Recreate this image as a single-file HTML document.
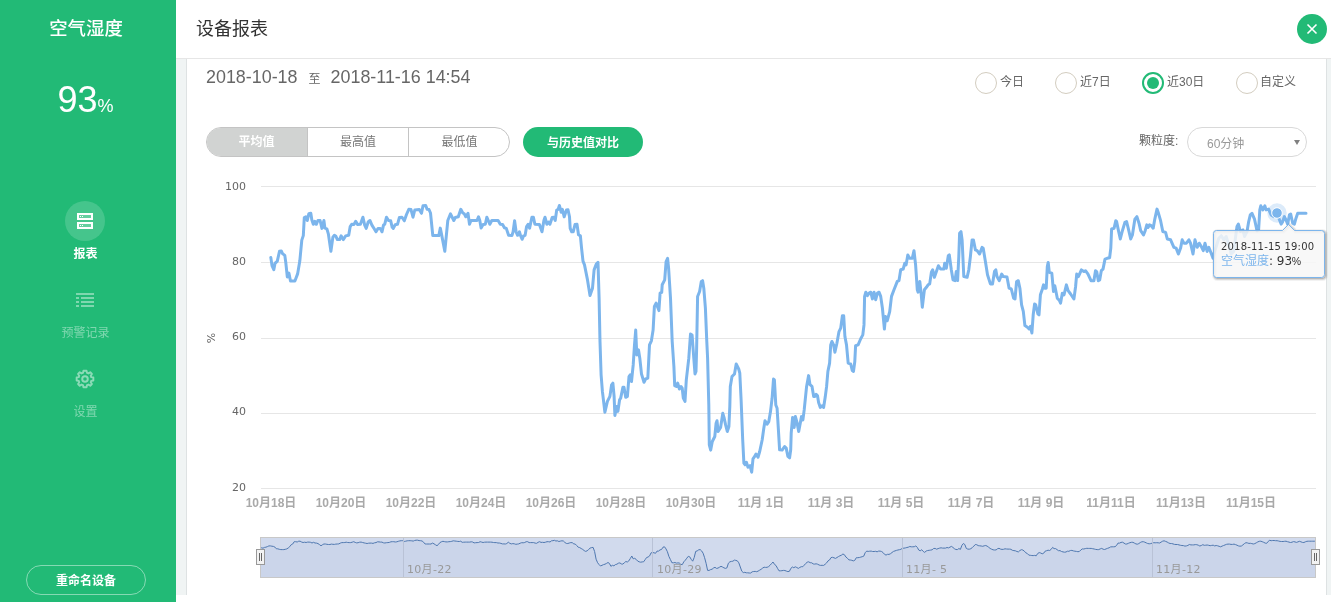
<!DOCTYPE html>
<html lang="zh-CN">
<head>
<meta charset="utf-8">
<title>设备报表</title>
<style>
*{box-sizing:border-box;margin:0;padding:0}
html,body{width:1331px;height:602px;overflow:hidden;background:#fff}
body{font-family:"Liberation Sans","Noto Sans CJK SC",sans-serif;color:#333;position:relative}
.abs{position:absolute;white-space:nowrap}
#side{position:absolute;left:0;top:0;width:176px;height:602px;background:#22ba76;color:#fff}
#side .name{left:0;width:176px;top:15.5px;text-align:center;font-size:18.4px;font-weight:500;line-height:26px;padding-right:4px}
#side .val{left:0;width:176px;top:78px;text-align:center;font-size:36px;line-height:44px;padding-right:5px}
#side .val small{font-size:18px}
#side .circle{left:65px;top:201px;width:40px;height:40px;border-radius:50%;background:rgba(255,255,255,.16)}
#side .lbl{left:0;width:176px;text-align:center;font-size:12px;line-height:16px;padding-right:5px}
#side .dim{opacity:.42}
#side .btn{left:26px;top:565px;width:120px;height:30px;border:1px solid rgba(255,255,255,.45);border-radius:15px;text-align:center;font-size:12px;font-weight:bold;line-height:30px}
#head{position:absolute;left:176px;top:0;width:1155px;height:59px;background:#fff;border-bottom:1px solid #e6e6e6}
#head .title{left:20px;top:15.5px;font-size:18px;line-height:26px;color:#333}
#head .close{left:1121px;top:14px;width:30px;height:30px;border-radius:50%;background:#22ba76}
#bg{position:absolute;left:176px;top:59px;width:1155px;height:536px;background:#f0f4f4}
#card{position:absolute;left:186px;top:59px;width:1141px;height:536px;background:#fff;border-left:1px solid #dee2e3;border-right:1px solid #dee2e3}
.date{left:206px;top:66px;font-size:17.9px;line-height:22px;color:#666}
.date i{font-style:normal;font-size:12px;margin:0 10px 0 11px;position:relative;top:0}
.radio{top:72px;width:22px;height:22px;border-radius:50%;border:1px solid #d3cdc0;background:#fff}
.radio.on{border:2px solid #22ba76}
.radio.on:after{content:"";position:absolute;left:3px;top:3px;width:12px;height:12px;border-radius:50%;background:#22ba76}
.rl{top:74px;font-size:12px;line-height:16px;color:#666}
.tabs{left:206px;top:127px;width:304px;height:30px;border:1px solid #c4c4c4;border-radius:15px;overflow:hidden;background:#fff}
.tabs div{position:absolute;top:-1px;height:30px;line-height:30px;text-align:center;font-size:12px;color:#777}
.cmp{left:523px;top:127px;width:120px;height:30px;border-radius:15px;background:#22ba76;color:#fff;font-size:12px;font-weight:bold;text-align:center;line-height:32px}
.gl{left:1139px;top:133px;font-size:12px;line-height:16px;color:#666}
.sel{left:1187px;top:127px;width:120px;height:30px;border:1px solid #d9d9d9;border-radius:15px;background:#fff}
.sel span{position:absolute;left:19px;top:8px;font-size:12px;line-height:16px;color:#999}
.sel b{position:absolute;left:106px;top:12px;width:0;height:0;border-left:3.5px solid transparent;border-right:3.5px solid transparent;border-top:5.5px solid #808080}
svg{position:absolute;left:0;top:0}
svg text{font-family:"Liberation Sans","Noto Sans CJK SC",sans-serif}
svg .hc,svg .hc text{font-family:"DejaVu Sans","Noto Sans CJK SC",sans-serif}
</style>
</head>
<body>
<div id="side">
  <div class="abs name">空气湿度</div>
  <div class="abs val">93<small>%</small></div>
  <div class="abs circle"></div>
  <svg width="176" height="602" viewBox="0 0 176 602">
    <!-- report icon -->
    <g fill="none" stroke="#fff" stroke-width="2">
      <rect x="78" y="214" width="14" height="5"/>
      <rect x="78" y="223" width="14" height="5"/>
    </g>
    <g fill="#fff">
      <rect x="79" y="215" width="12" height="3" opacity=".18"/>
      <rect x="79" y="224" width="12" height="3" opacity=".18"/>
      <rect x="80" y="216" width="1" height="1"/><rect x="82" y="216" width="1" height="1"/>
      <rect x="80" y="225" width="1" height="1"/><rect x="82" y="225" width="1" height="1"/>
    </g>
    <!-- list icon -->
    <g fill="#fff" opacity=".42">
      <rect x="76" y="293" width="18" height="2"/>
      <rect x="76" y="297" width="3" height="2"/><rect x="81" y="297" width="13" height="2"/>
      <rect x="76" y="301" width="3" height="2"/><rect x="81" y="301" width="13" height="2"/>
      <rect x="76" y="305" width="3" height="2"/><rect x="81" y="305" width="13" height="2"/>
    </g>
    <!-- gear icon -->
    <g fill="none" stroke="#fff" stroke-width="2" opacity=".48" transform="translate(85 379) scale(.96)">
      <circle r="2.9"/>
      <path d="M-1.6 -8.6 L1.6 -8.6 L2.1 -6.4 L3.6 -5.8 L5.5 -7 L7.2 -5.3 L6 -3.4 L6.5 -2 L8.7 -1.5 L8.7 1.5 L6.5 2 L6 3.4 L7.2 5.3 L5.5 7 L3.6 5.8 L2.1 6.4 L1.6 8.6 L-1.6 8.6 L-2.1 6.4 L-3.6 5.8 L-5.5 7 L-7.2 5.3 L-6 3.4 L-6.5 2 L-8.7 1.5 L-8.7 -1.5 L-6.5 -2 L-6 -3.4 L-7.2 -5.3 L-5.5 -7 L-3.6 -5.8 L-2.1 -6.4 Z" stroke-linejoin="round"/>
    </g>
  </svg>
  <div class="abs lbl" style="top:245.5px;font-weight:bold">报表</div>
  <div class="abs lbl dim" style="top:324.5px">预警记录</div>
  <div class="abs lbl dim" style="top:403.5px">设置</div>
  <div class="abs btn">重命名设备</div>
</div>

<div id="head">
  <div class="abs title">设备报表</div>
  <div class="abs close">
    <svg width="30" height="30" viewBox="0 0 30 30"><path d="M10.5 10.5 L19.5 19.5 M19.5 10.5 L10.5 19.5" stroke="#fff" stroke-width="1.6" fill="none"/></svg>
  </div>
</div>
<div id="bg"></div>
<div id="card"></div>

<div class="abs date">2018-10-18<i>至</i>2018-11-16 14:54</div>

<div class="abs radio" style="left:975px"></div><div class="abs rl" style="left:1000px">今日</div>
<div class="abs radio" style="left:1055px"></div><div class="abs rl" style="left:1080px">近7日</div>
<div class="abs radio on" style="left:1142px"></div><div class="abs rl" style="left:1167px">近30日</div>
<div class="abs radio" style="left:1236px"></div><div class="abs rl" style="left:1260px">自定义</div>

<div class="abs tabs">
  <div style="left:-1px;width:101px;background:#d1d3d2;color:#fff;font-weight:bold">平均值</div>
  <div style="left:100px;width:102px;border-left:1px solid #c4c4c4;border-right:1px solid #c4c4c4">最高值</div>
  <div style="left:202px;width:101px">最低值</div>
</div>
<div class="abs cmp">与历史值对比</div>
<div class="abs gl">颗粒度:</div>
<div class="abs sel"><span>60分钟</span><b></b></div>

<svg width="1331" height="602" viewBox="0 0 1331 602">
  <!-- grid -->
  <g stroke="#e6e6e6" stroke-width="1" shape-rendering="crispEdges">
    <path d="M261 186.5H1316 M261 262.5H1316 M261 338.5H1316 M261 413.5H1316 M261 488.5H1316"/>
  </g>
  <!-- y labels -->
  <g font-size="11" fill="#666" text-anchor="end" class="hc">
    <text x="246" y="190">100</text>
    <text x="246" y="265">80</text>
    <text x="246" y="340">60</text>
    <text x="246" y="415">40</text>
    <text x="246" y="491">20</text>
  </g>
  <text x="215" y="338" font-size="11" fill="#666" text-anchor="middle" class="hc" transform="rotate(-90 215 338)">%</text>
  <!-- x labels -->
  <g font-size="12" font-weight="bold" fill="#a9a9a9" text-anchor="middle">
    <text x="271" y="507">10月18日</text>
    <text x="341" y="507">10月20日</text>
    <text x="411" y="507">10月22日</text>
    <text x="481" y="507">10月24日</text>
    <text x="551" y="507">10月26日</text>
    <text x="621" y="507">10月28日</text>
    <text x="691" y="507">10月30日</text>
    <text x="761" y="507">11月 1日</text>
    <text x="831" y="507">11月 3日</text>
    <text x="901" y="507">11月 5日</text>
    <text x="971" y="507">11月 7日</text>
    <text x="1041" y="507">11月 9日</text>
    <text x="1111" y="507">11月11日</text>
    <text x="1181" y="507">11月13日</text>
    <text x="1251" y="507">11月15日</text>
  </g>
  <!-- main series -->
  <path d="M270.8 257.4 L272.0 265.6 L273.8 269.7 L275.0 263.4 L277.3 261.1 L279.5 251.3 L281.3 251.0 L282.5 253.6 L284.8 255.4 L285.8 262.6 L287.3 276.9 L288.9 273.1 L290.5 281.0 L294.9 281.0 L297.6 273.9 L299.8 261.1 L301.8 240.1 L303.3 235.6 L304.3 217.5 L305.8 216.8 L307.3 220.5 L308.8 213.8 L310.8 213.3 L311.8 219.8 L313.3 224.3 L314.8 221.3 L316.3 224.3 L317.9 220.5 L320.1 220.5 L321.9 228.4 L323.9 220.5 L324.9 228.1 L326.9 228.8 L328.4 234.1 L330.9 251.3 L332.9 237.1 L334.4 235.3 L335.9 236.3 L337.4 239.6 L339.6 239.6 L341.1 235.9 L343.4 239.6 L345.6 235.9 L348.7 235.3 L350.2 226.6 L351.7 224.3 L353.9 224.6 L355.7 221.3 L357.7 224.6 L360.4 224.3 L362.9 217.2 L364.7 225.1 L366.2 228.4 L368.2 222.0 L370.0 220.5 L371.9 225.1 L374.2 228.8 L376.0 231.8 L378.0 228.4 L380.2 228.4 L382.0 231.8 L383.5 225.1 L384.7 224.3 L386.5 217.2 L388.5 220.5 L390.7 220.8 L392.2 227.3 L393.3 228.4 L395.2 224.8 L397.5 224.3 L399.4 217.5 L402.0 217.2 L404.3 220.8 L406.5 214.5 L408.8 209.3 L411.0 209.6 L413.0 217.2 L414.8 210.0 L419.3 209.6 L421.5 213.3 L423.0 205.8 L425.7 205.5 L427.1 209.3 L429.0 209.6 L430.5 213.0 L432.8 235.6 L438.8 235.6 L440.3 228.1 L441.8 235.6 L444.8 251.3 L447.8 220.5 L450.5 213.8 L453.8 220.5 L455.3 217.5 L458.3 216.8 L460.8 209.3 L462.8 213.0 L464.3 213.8 L465.8 216.8 L468.0 213.3 L469.5 224.3 L471.0 220.5 L477.0 220.5 L478.5 216.8 L479.8 220.5 L481.1 228.1 L483.1 224.6 L485.3 224.3 L486.8 217.2 L488.3 220.5 L489.8 224.3 L491.8 220.5 L498.1 220.5 L500.3 224.3 L502.6 224.6 L504.4 227.8 L506.3 228.4 L508.6 235.3 L511.9 235.6 L513.1 231.8 L514.6 220.8 L516.1 231.8 L517.6 235.3 L519.4 231.8 L520.6 235.6 L522.1 239.3 L523.6 235.9 L525.1 235.3 L526.6 226.6 L528.1 224.3 L529.6 228.1 L531.9 217.2 L533.4 217.2 L534.9 224.3 L539.4 224.6 L542.0 231.8 L543.9 220.5 L545.0 217.2 L546.9 224.3 L548.4 222.0 L549.9 224.3 L552.2 217.5 L553.7 217.2 L555.2 220.5 L556.7 210.0 L558.2 209.3 L559.4 205.5 L561.2 212.3 L562.4 209.3 L564.2 216.8 L566.5 210.0 L568.0 209.7 L569.5 216.8 L570.2 228.4 L571.7 231.8 L573.2 231.8 L575.0 224.6 L577.0 224.3 L578.5 234.8 L580.4 235.9 L581.5 247.6 L583.0 261.1 L584.5 264.9 L587.5 279.9 L590.0 295.6 L592.5 288.2 L594.1 269.9 L596.3 264.1 L598.0 262.4 L599.1 298.1 L600.0 341.6 L601.1 374.8 L602.4 391.4 L604.9 412.2 L607.4 401.4 L609.9 396.4 L611.6 384.8 L612.9 383.1 L614.1 396.4 L614.9 415.5 L616.6 406.4 L617.9 411.4 L619.6 399.8 L620.7 398.1 L622.9 387.3 L624.0 387.3 L625.7 397.3 L627.4 396.4 L629.0 376.5 L630.2 374.8 L631.5 381.5 L633.2 364.9 L634.5 344.9 L635.7 330.0 L636.8 354.9 L638.5 349.9 L639.8 358.2 L641.5 374.0 L644.0 382.3 L645.6 379.0 L647.8 378.2 L649.5 344.9 L651.4 340.8 L653.1 330.0 L654.4 306.4 L656.1 303.1 L658.9 310.6 L660.1 293.1 L661.7 292.3 L662.2 284.8 L664.7 279.9 L666.1 261.6 L667.6 258.3 L668.6 268.2 L670.5 298.1 L672.2 341.6 L673.9 366.5 L674.7 385.6 L676.4 386.5 L677.7 383.1 L679.4 389.0 L681.0 386.5 L682.2 388.1 L683.3 398.1 L685.0 401.4 L686.3 379.8 L688.8 358.2 L690.5 334.1 L692.1 335.0 L693.8 358.2 L695.0 374.0 L696.0 371.5 L696.6 349.9 L697.6 296.5 L699.6 291.5 L701.3 281.5 L702.6 280.7 L703.8 288.2 L705.4 308.1 L706.8 341.6 L707.6 358.2 L708.8 404.7 L709.3 444.8 L710.7 450.1 L712.3 441.5 L714.8 436.5 L716.1 423.2 L717.0 420.7 L718.1 431.5 L720.6 427.4 L722.8 413.3 L724.0 417.4 L725.6 424.9 L727.3 431.5 L728.9 426.5 L729.8 406.6 L730.3 386.5 L732.0 376.5 L734.5 374.0 L736.2 364.0 L738.7 369.0 L739.8 373.2 L741.1 399.8 L742.7 439.8 L743.9 463.1 L745.0 464.8 L746.4 462.3 L748.0 467.2 L750.0 465.6 L751.7 472.2 L753.0 458.9 L754.7 456.4 L756.0 454.0 L758.0 457.3 L759.7 451.5 L762.2 439.8 L763.8 428.2 L765.0 420.7 L767.1 424.1 L768.8 421.6 L770.5 411.6 L772.1 398.3 L773.5 379.0 L774.4 379.8 L775.8 405.0 L777.1 408.3 L778.3 428.2 L779.6 449.8 L782.1 450.1 L784.6 446.5 L786.2 448.1 L787.9 456.4 L789.6 457.8 L790.7 449.8 L791.2 433.2 L792.6 417.4 L794.2 427.4 L795.4 416.6 L797.0 422.4 L798.7 431.5 L800.4 422.4 L801.5 416.6 L802.9 419.9 L804.2 409.9 L806.6 386.4 L808.6 375.6 L810.0 384.7 L812.0 386.4 L813.7 396.6 L814.8 396.6 L816.1 394.2 L817.5 395.8 L818.6 402.5 L820.3 407.4 L822.0 405.8 L823.6 407.4 L825.3 396.6 L826.6 386.4 L827.9 371.4 L829.6 363.1 L830.7 344.9 L831.9 341.5 L833.6 344.9 L834.9 352.3 L836.9 343.2 L839.0 331.6 L840.7 328.2 L842.4 315.8 L843.7 315.8 L844.9 336.5 L846.5 344.9 L848.2 363.1 L850.7 364.0 L852.3 370.6 L853.5 371.4 L854.8 361.5 L855.6 345.7 L858.1 344.9 L860.6 339.0 L862.8 334.9 L864.0 324.9 L864.6 296.4 L865.8 292.2 L867.4 295.6 L869.1 293.1 L870.8 292.2 L872.4 298.9 L874.1 292.2 L875.7 299.7 L877.4 293.1 L879.1 292.2 L880.7 296.4 L882.4 308.0 L884.4 329.1 L885.5 316.6 L887.2 320.8 L889.7 311.6 L891.5 296.4 L894.0 289.8 L897.3 281.4 L899.0 280.6 L900.7 269.8 L903.2 269.0 L904.8 263.2 L906.1 264.8 L907.8 254.9 L909.5 258.2 L912.3 258.2 L914.0 250.7 L915.6 264.8 L917.3 289.8 L918.1 292.2 L919.8 281.4 L921.1 293.1 L922.3 307.2 L924.4 289.8 L926.4 287.3 L928.1 284.8 L929.7 283.9 L931.4 272.3 L932.7 269.8 L934.4 277.3 L936.4 271.5 L938.4 265.7 L940.5 269.0 L943.9 269.0 L944.7 263.2 L946.3 268.2 L948.3 255.7 L949.3 254.9 L951.3 269.8 L953.0 279.8 L955.0 280.6 L956.3 271.5 L957.6 280.6 L958.8 256.5 L959.6 233.3 L961.0 231.6 L962.1 239.9 L963.8 276.5 L967.1 277.3 L968.8 269.8 L970.4 256.5 L972.1 239.9 L973.4 239.9 L975.4 249.9 L977.1 250.7 L979.6 254.0 L982.1 247.4 L983.2 248.2 L985.4 261.5 L987.5 274.8 L990.4 283.9 L992.5 283.9 L994.5 271.5 L995.8 269.8 L997.0 276.5 L999.2 280.6 L1001.7 274.1 L1003.3 276.6 L1007.0 276.9 L1009.1 288.2 L1011.3 289.0 L1013.6 298.2 L1015.0 299.0 L1016.6 281.5 L1018.3 280.7 L1019.9 288.2 L1021.6 304.8 L1023.3 311.4 L1024.9 325.6 L1027.4 327.2 L1029.1 328.9 L1030.4 326.4 L1031.9 333.0 L1033.2 314.8 L1034.6 304.0 L1035.7 304.8 L1037.9 313.9 L1039.0 314.8 L1040.4 294.8 L1042.4 289.0 L1043.5 284.9 L1044.9 288.2 L1046.2 288.2 L1047.3 266.6 L1048.2 262.4 L1049.3 272.4 L1051.8 273.2 L1053.5 291.5 L1054.8 285.7 L1057.3 298.2 L1059.5 300.6 L1060.6 303.1 L1062.3 293.2 L1064.0 294.8 L1066.4 284.9 L1068.1 290.7 L1070.6 294.0 L1073.9 299.0 L1075.6 286.5 L1076.7 274.1 L1078.4 276.6 L1081.4 269.9 L1083.9 271.6 L1085.5 270.7 L1088.0 274.1 L1091.0 280.7 L1093.9 280.7 L1095.5 270.7 L1096.7 271.6 L1098.3 280.7 L1099.7 279.9 L1101.3 270.7 L1103.0 269.1 L1105.0 259.1 L1107.1 258.3 L1109.6 257.8 L1110.8 248.1 L1111.6 229.0 L1114.1 228.2 L1115.8 220.7 L1116.6 221.6 L1118.3 229.9 L1120.3 239.0 L1122.4 230.7 L1124.9 222.4 L1126.6 221.6 L1128.2 228.2 L1130.7 239.0 L1132.4 234.9 L1134.9 219.1 L1136.9 216.6 L1139.0 223.2 L1140.7 230.7 L1143.5 234.9 L1145.2 230.7 L1146.8 224.9 L1148.2 227.4 L1149.5 224.9 L1151.2 225.7 L1153.2 228.2 L1154.8 219.1 L1157.0 209.1 L1158.5 213.3 L1160.6 220.7 L1162.8 231.5 L1165.6 232.4 L1167.3 239.0 L1170.6 239.8 L1173.9 247.3 L1176.1 248.1 L1178.4 254.0 L1180.6 248.1 L1182.2 239.8 L1183.9 243.2 L1186.4 243.2 L1188.9 239.8 L1190.5 243.2 L1193.0 254.0 L1195.0 239.8 L1197.2 247.3 L1199.3 243.2 L1201.7 247.3 L1203.3 250.6 L1205.0 243.2 L1207.1 251.5 L1208.8 247.3 L1210.5 251.5 L1213.0 258.1 L1214.6 251.5 L1216.3 246.5 L1218.8 238.2 L1221.3 235.7 L1223.8 239.8 L1226.2 236.5 L1228.7 244.8 L1231.2 254.0 L1233.7 251.5 L1235.4 238.2 L1237.0 226.5 L1238.4 224.1 L1240.4 231.5 L1242.9 229.9 L1244.5 236.5 L1247.0 231.5 L1248.7 221.6 L1250.3 214.9 L1252.0 213.3 L1254.5 219.1 L1257.0 230.7 L1258.6 229.9 L1259.8 209.9 L1260.8 205.8 L1262.8 209.9 L1264.8 205.8 L1266.1 209.9 L1268.6 209.1 L1271.1 214.9 L1273.6 216.6 L1276.9 213.3 L1278.6 217.4 L1281.1 224.1 L1282.7 221.6 L1284.4 216.6 L1286.0 219.9 L1287.7 224.1 L1289.4 214.9 L1290.7 214.1 L1292.7 223.2 L1294.4 224.1 L1296.0 218.2 L1297.7 213.3 L1306.0 213.3" fill="none" stroke="#7cb5ec" stroke-width="3" stroke-linejoin="round" stroke-linecap="round"/>
  <circle cx="1277" cy="213" r="9.7" fill="#7cb5ec" fill-opacity=".27"/>
  <circle cx="1277" cy="213" r="5.3" fill="#7cb5ec" stroke="#fff" stroke-width="1"/>
  <!-- tooltip -->
  <g>
    <path d="M1216.5 230.500 H1282.5 L1288.5 224.5 L1294.500 230.500 H1321.500 a3 3 0 0 1 3 3 V274.500 a3 3 0 0 1 -3 3 H1216.500 a3 3 0 0 1 -3 -3 V233.500 a3 3 0 0 1 3 -3 Z" fill="none" stroke="#000" stroke-opacity="0.05" stroke-width="5" transform="translate(1 1)"/>
    <path d="M1216.5 230.500 H1282.5 L1288.5 224.5 L1294.500 230.500 H1321.500 a3 3 0 0 1 3 3 V274.500 a3 3 0 0 1 -3 3 H1216.500 a3 3 0 0 1 -3 -3 V233.500 a3 3 0 0 1 3 -3 Z" fill="none" stroke="#000" stroke-opacity="0.1" stroke-width="3" transform="translate(1 1)"/>
    <path d="M1216.5 230.500 H1282.5 L1288.5 224.5 L1294.500 230.500 H1321.500 a3 3 0 0 1 3 3 V274.500 a3 3 0 0 1 -3 3 H1216.500 a3 3 0 0 1 -3 -3 V233.500 a3 3 0 0 1 3 -3 Z" fill="none" stroke="#000" stroke-opacity="0.15" stroke-width="1" transform="translate(1 1)"/>
    <path d="M1216.5 230.500 H1282.5 L1288.5 224.5 L1294.500 230.500 H1321.500 a3 3 0 0 1 3 3 V274.500 a3 3 0 0 1 -3 3 H1216.500 a3 3 0 0 1 -3 -3 V233.500 a3 3 0 0 1 3 -3 Z" fill="#f7f7f7" fill-opacity=".85" stroke="#7cb5ec" stroke-width="1"/>
    <text x="1221" y="250" font-size="10" fill="#333" letter-spacing="0.2" class="hc">2018-11-15 19:00</text>
    <text x="1221" y="265" font-size="12" fill="#333" class="hc"><tspan fill="#7cb5ec">空气湿度</tspan>: 93<tspan font-family="Liberation Sans, sans-serif" font-size="10.5" dx="-0.3">%</tspan></text>
  </g>
  <!-- navigator -->
  <g>
    <path d="M260.0 546.8 L261.5 547.8 L263.0 548.2 L264.5 547.4 L265.9 547.2 L267.4 546.6 L268.9 545.9 L270.4 545.9 L271.9 546.2 L273.4 546.4 L274.9 547.1 L276.4 548.8 L277.8 548.8 L279.3 549.3 L280.8 549.6 L282.3 549.6 L283.8 549.6 L285.3 549.3 L286.8 548.9 L288.3 547.9 L289.7 546.7 L291.2 544.7 L292.7 544.0 L294.2 541.7 L295.7 541.7 L297.2 542.0 L298.7 541.2 L300.1 541.2 L301.6 542.0 L303.1 542.5 L304.6 542.2 L306.1 542.5 L307.6 542.1 L309.1 542.1 L310.6 542.3 L312.0 543.0 L313.5 542.3 L315.0 543.0 L316.5 543.1 L318.0 543.6 L319.5 544.6 L321.0 545.8 L322.5 544.7 L323.9 544.0 L325.4 544.0 L326.9 544.3 L328.4 544.5 L329.9 544.5 L331.4 544.1 L332.9 544.3 L334.4 544.4 L335.8 544.1 L337.3 544.0 L338.8 543.9 L340.3 543.1 L341.8 542.6 L343.3 542.6 L344.8 542.5 L346.2 542.2 L347.7 542.5 L349.2 542.6 L350.7 542.6 L352.2 542.2 L353.7 541.7 L355.2 542.4 L356.7 542.9 L358.1 542.7 L359.6 542.2 L361.1 542.1 L362.6 542.5 L364.1 542.9 L365.6 543.2 L367.1 543.5 L368.6 543.2 L370.0 543.1 L371.5 543.1 L373.0 543.4 L374.5 542.8 L376.0 542.6 L377.5 541.8 L379.0 541.9 L380.4 542.1 L381.9 542.1 L383.4 542.8 L384.9 543.0 L386.4 542.7 L387.9 542.6 L389.4 542.4 L390.9 541.8 L392.3 541.7 L393.8 541.7 L395.3 542.0 L396.8 541.8 L398.3 541.3 L399.8 540.9 L401.3 540.7 L402.8 540.7 L404.2 541.4 L405.7 541.2 L407.2 540.8 L408.7 540.7 L410.2 540.7 L411.7 540.8 L413.2 541.1 L414.6 540.5 L416.1 540.2 L417.6 540.2 L419.1 540.6 L420.6 540.7 L422.1 541.0 L423.6 542.2 L425.1 544.0 L426.5 544.0 L428.0 544.0 L429.5 544.0 L431.0 544.0 L432.5 543.1 L434.0 543.8 L435.5 544.8 L437.0 545.7 L438.4 544.5 L439.9 542.6 L441.4 541.8 L442.9 541.3 L444.4 541.6 L445.9 541.9 L447.4 541.9 L448.9 541.7 L450.3 541.6 L451.8 541.3 L453.3 540.8 L454.8 541.0 L456.3 541.2 L457.8 541.4 L459.3 541.5 L460.7 541.2 L462.2 542.3 L463.7 542.2 L465.2 542.1 L466.7 542.1 L468.2 542.1 L469.7 542.1 L471.2 541.8 L472.6 542.0 L474.1 542.9 L475.6 542.7 L477.1 542.6 L478.6 542.5 L480.1 541.7 L481.6 542.1 L483.1 542.5 L484.5 542.2 L486.0 542.1 L487.5 542.1 L489.0 542.1 L490.5 542.1 L492.0 542.2 L493.5 542.5 L494.9 542.6 L496.4 542.6 L497.9 543.0 L499.4 543.0 L500.9 543.4 L502.4 543.9 L503.9 543.9 L505.4 544.0 L506.8 543.5 L508.3 542.2 L509.8 543.3 L511.3 543.9 L512.8 543.6 L514.3 543.8 L515.8 544.3 L517.3 544.1 L518.7 543.9 L520.2 543.2 L521.7 542.7 L523.2 542.8 L524.7 542.5 L526.2 541.7 L527.7 541.7 L529.1 542.6 L530.6 542.6 L532.1 542.6 L533.6 542.6 L535.1 543.1 L536.6 543.3 L538.1 542.3 L539.6 541.7 L541.0 542.4 L542.5 542.3 L544.0 542.5 L545.5 542.2 L547.0 541.7 L548.5 541.7 L550.0 542.0 L551.5 540.8 L552.9 540.7 L554.4 540.3 L555.9 541.0 L557.4 540.8 L558.9 541.5 L560.4 541.1 L561.9 540.8 L563.4 541.0 L564.8 542.4 L566.3 543.4 L567.8 543.5 L569.3 543.0 L570.8 542.6 L572.3 542.7 L573.8 543.9 L575.2 544.0 L576.7 545.5 L578.2 547.2 L579.7 547.6 L581.2 548.5 L582.7 549.4 L584.2 550.6 L585.7 551.4 L587.1 550.8 L588.6 549.5 L590.1 548.1 L591.6 547.6 L593.1 547.4 L594.6 551.5 L596.1 559.2 L597.6 562.7 L599.0 564.5 L600.5 566.0 L602.0 565.3 L603.5 564.6 L605.0 564.2 L606.5 563.4 L608.0 562.5 L609.4 563.4 L610.9 566.3 L612.4 565.3 L613.9 565.8 L615.4 564.6 L616.9 564.2 L618.4 563.2 L619.9 562.9 L621.3 563.9 L622.8 564.1 L624.3 562.8 L625.8 561.5 L627.3 562.0 L628.8 560.9 L630.3 558.5 L631.8 556.0 L633.2 558.8 L634.7 558.3 L636.2 559.4 L637.7 561.1 L639.2 561.8 L640.7 562.2 L642.2 561.9 L643.6 561.8 L645.1 559.7 L646.6 557.5 L648.1 557.0 L649.6 555.9 L651.1 552.8 L652.6 552.5 L654.1 552.8 L655.5 553.3 L657.0 551.1 L658.5 551.1 L660.0 549.9 L661.5 549.5 L663.0 547.2 L664.5 546.8 L666.0 548.9 L667.4 551.7 L668.9 556.4 L670.4 559.5 L671.9 562.7 L673.4 562.8 L674.9 562.5 L676.4 563.1 L677.9 562.9 L679.3 563.0 L680.8 564.4 L682.3 564.6 L683.8 561.8 L685.3 560.2 L686.8 558.2 L688.3 556.3 L689.7 556.8 L691.2 559.3 L692.7 561.2 L694.2 557.5 L695.7 551.4 L697.2 550.9 L698.7 549.8 L700.2 549.6 L701.6 550.9 L703.1 553.2 L704.6 557.7 L706.1 563.3 L707.6 570.4 L709.1 570.4 L710.6 569.6 L712.1 569.2 L713.5 568.0 L715.0 567.3 L716.5 568.4 L718.0 568.1 L719.5 567.2 L721.0 566.3 L722.5 567.0 L723.9 567.8 L725.4 568.4 L726.9 567.9 L728.4 563.2 L729.9 561.8 L731.4 561.4 L732.9 561.2 L734.4 560.1 L735.8 560.4 L737.3 560.8 L738.8 562.8 L740.3 567.0 L741.8 571.2 L743.3 572.6 L744.8 572.3 L746.3 572.8 L747.7 572.8 L749.2 573.0 L750.7 573.0 L752.2 571.8 L753.7 571.5 L755.2 571.4 L756.7 571.7 L758.1 571.1 L759.6 570.2 L761.1 569.3 L762.6 568.1 L764.1 567.2 L765.6 567.4 L767.1 567.3 L768.6 566.6 L770.0 565.3 L771.5 563.6 L773.0 562.0 L774.5 564.4 L776.0 565.5 L777.5 568.3 L779.0 570.8 L780.5 570.8 L781.9 570.7 L783.4 570.4 L784.9 570.5 L786.4 571.1 L787.9 571.6 L789.4 571.3 L790.9 568.3 L792.4 567.0 L793.8 567.7 L795.3 566.8 L796.8 567.5 L798.3 568.4 L799.8 567.4 L801.3 566.7 L802.8 566.7 L804.2 565.2 L805.7 563.5 L807.2 562.2 L808.7 561.8 L810.2 562.7 L811.7 562.8 L813.2 563.9 L814.7 564.1 L816.1 563.8 L817.6 564.2 L819.1 565.0 L820.6 565.4 L822.1 565.3 L823.6 565.4 L825.1 564.3 L826.6 562.9 L828.0 560.9 L829.5 560.0 L831.0 557.6 L832.5 557.3 L834.0 557.8 L835.5 558.4 L837.0 557.5 L838.4 556.6 L839.9 555.8 L841.4 555.2 L842.9 554.0 L844.4 554.7 L845.9 557.0 L847.4 558.2 L848.9 559.9 L850.3 560.0 L851.8 560.3 L853.3 560.9 L854.8 560.3 L856.3 557.7 L857.8 557.7 L859.3 557.5 L860.8 557.1 L862.2 556.7 L863.7 556.2 L865.2 552.7 L866.7 551.1 L868.2 551.4 L869.7 551.2 L871.2 551.1 L872.6 551.5 L874.1 551.5 L875.6 551.3 L877.1 551.8 L878.6 551.1 L880.1 551.1 L881.6 551.5 L883.1 552.6 L884.5 554.3 L886.0 555.1 L887.5 554.3 L889.0 554.4 L890.5 553.7 L892.0 552.5 L893.5 551.4 L895.0 550.9 L896.4 550.4 L897.9 550.0 L899.4 549.7 L900.9 549.3 L902.4 548.2 L903.9 548.2 L905.4 547.9 L906.9 547.5 L908.3 547.2 L909.8 546.5 L911.3 546.8 L912.8 546.8 L914.3 546.7 L915.8 545.9 L917.3 547.4 L918.7 550.0 L920.2 550.8 L921.7 549.7 L923.2 551.4 L924.7 552.4 L926.2 551.0 L927.7 550.5 L929.2 550.3 L930.6 550.1 L932.1 549.8 L933.6 548.5 L935.1 548.4 L936.6 549.2 L938.1 548.6 L939.6 548.1 L941.1 547.8 L942.5 548.1 L944.0 548.1 L945.5 548.1 L947.0 547.5 L948.5 547.9 L950.0 547.1 L951.5 546.4 L952.9 547.4 L954.4 548.7 L955.9 549.5 L957.4 549.6 L958.9 548.5 L960.4 549.4 L961.9 545.3 L963.4 543.5 L964.8 544.5 L966.3 548.4 L967.8 549.1 L969.3 549.2 L970.8 548.7 L972.3 547.6 L973.8 546.1 L975.3 544.5 L976.7 544.7 L978.2 545.6 L979.7 545.8 L981.2 546.0 L982.7 546.3 L984.2 545.8 L985.7 545.5 L987.1 546.1 L988.6 547.2 L990.1 548.4 L991.6 549.2 L993.1 549.8 L994.6 550.0 L996.1 549.9 L997.6 548.7 L999.0 548.3 L1000.5 549.1 L1002.0 549.4 L1003.5 549.3 L1005.0 548.8 L1006.5 549.0 L1008.0 549.1 L1009.5 549.1 L1010.9 549.3 L1012.4 550.3 L1013.9 550.6 L1015.4 550.8 L1016.9 551.5 L1018.4 551.9 L1019.9 550.5 L1021.4 549.7 L1022.8 550.0 L1024.3 551.1 L1025.8 552.8 L1027.3 553.5 L1028.8 555.1 L1030.3 555.3 L1031.8 555.5 L1033.2 555.6 L1034.7 555.4 L1036.2 555.8 L1037.7 553.5 L1039.2 552.6 L1040.7 553.0 L1042.2 553.8 L1043.7 553.2 L1045.1 551.2 L1046.6 550.7 L1048.1 550.2 L1049.6 550.5 L1051.1 549.4 L1052.6 547.4 L1054.1 548.6 L1055.6 548.6 L1057.0 549.6 L1058.5 550.7 L1060.0 550.6 L1061.5 551.5 L1063.0 551.9 L1064.5 552.2 L1066.0 552.0 L1067.4 551.2 L1068.9 551.3 L1070.4 550.5 L1071.9 550.4 L1073.4 550.9 L1074.9 551.2 L1076.4 551.4 L1077.9 551.7 L1079.3 551.5 L1080.8 550.0 L1082.3 548.9 L1083.8 549.0 L1085.3 548.6 L1086.8 548.3 L1088.3 548.4 L1089.8 548.4 L1091.2 548.4 L1092.7 548.7 L1094.2 549.0 L1095.7 549.4 L1097.2 549.6 L1098.7 549.6 L1100.2 548.9 L1101.7 548.4 L1103.1 549.2 L1104.6 549.5 L1106.1 548.9 L1107.6 548.3 L1109.1 547.8 L1110.6 546.9 L1112.1 546.8 L1113.5 546.8 L1115.0 546.7 L1116.5 545.5 L1118.0 543.1 L1119.5 543.1 L1121.0 542.4 L1122.5 542.2 L1124.0 543.1 L1125.4 544.0 L1126.9 544.0 L1128.4 543.3 L1129.9 542.7 L1131.4 542.3 L1132.9 542.3 L1134.4 543.1 L1135.9 543.9 L1137.3 544.2 L1138.8 543.6 L1140.3 542.5 L1141.8 541.8 L1143.3 541.7 L1144.8 542.2 L1146.3 542.9 L1147.7 543.5 L1149.2 543.8 L1150.7 543.6 L1152.2 543.1 L1153.7 542.7 L1155.2 542.8 L1156.7 542.7 L1158.2 542.8 L1159.6 543.0 L1161.1 542.1 L1162.6 541.2 L1164.1 540.8 L1165.6 541.4 L1167.1 542.0 L1168.6 542.9 L1170.1 543.5 L1171.5 543.5 L1173.0 543.9 L1174.5 544.4 L1176.0 544.5 L1177.5 544.5 L1179.0 544.9 L1180.5 545.3 L1181.9 545.5 L1183.4 545.6 L1184.9 546.1 L1186.4 545.9 L1187.9 545.4 L1189.4 544.5 L1190.9 544.9 L1192.4 544.9 L1193.8 544.9 L1195.3 544.6 L1196.8 544.7 L1198.3 545.2 L1199.8 546.0 L1201.3 545.5 L1202.8 544.7 L1204.3 545.3 L1205.7 545.2 L1207.2 545.0 L1208.7 545.3 L1210.2 545.7 L1211.7 545.4 L1213.2 545.2 L1214.7 545.9 L1216.2 545.5 L1217.6 545.8 L1219.1 546.3 L1220.6 546.8 L1222.1 546.1 L1223.6 545.5 L1225.1 544.9 L1226.6 544.3 L1228.0 544.1 L1229.5 544.1 L1231.0 544.4 L1232.5 544.4 L1234.0 544.1 L1235.5 544.6 L1237.0 545.2 L1238.5 545.9 L1239.9 546.2 L1241.4 546.0 L1242.9 544.9 L1244.4 543.6 L1245.9 542.7 L1247.4 542.9 L1248.9 543.4 L1250.4 543.3 L1251.8 543.6 L1253.3 544.0 L1254.8 543.6 L1256.3 542.8 L1257.8 541.9 L1259.3 541.3 L1260.8 541.2 L1262.2 541.7 L1263.7 542.3 L1265.2 543.1 L1266.7 543.3 L1268.2 541.4 L1269.7 540.3 L1271.2 540.7 L1272.7 540.5 L1274.1 540.5 L1275.6 540.7 L1277.1 540.7 L1278.6 541.0 L1280.1 541.4 L1281.6 541.5 L1283.1 541.5 L1284.6 541.3 L1286.0 541.2 L1287.5 541.7 L1289.0 542.1 L1290.5 542.5 L1292.0 542.2 L1293.5 541.6 L1295.0 541.9 L1296.4 542.4 L1297.9 541.9 L1299.4 541.3 L1300.9 541.8 L1302.4 542.4 L1303.9 542.5 L1305.4 541.8 L1306.9 541.3 L1308.3 541.2 L1309.8 541.2 L1311.3 541.2 L1312.8 541.2 L1314.3 541.2 L1315.8 541.2 L1315.8 577 L260.0 577 Z" fill="#4572a7" fill-opacity=".05"/>
    <path d="M260.0 546.8 L261.5 547.8 L263.0 548.2 L264.5 547.4 L265.9 547.2 L267.4 546.6 L268.9 545.9 L270.4 545.9 L271.9 546.2 L273.4 546.4 L274.9 547.1 L276.4 548.8 L277.8 548.8 L279.3 549.3 L280.8 549.6 L282.3 549.6 L283.8 549.6 L285.3 549.3 L286.8 548.9 L288.3 547.9 L289.7 546.7 L291.2 544.7 L292.7 544.0 L294.2 541.7 L295.7 541.7 L297.2 542.0 L298.7 541.2 L300.1 541.2 L301.6 542.0 L303.1 542.5 L304.6 542.2 L306.1 542.5 L307.6 542.1 L309.1 542.1 L310.6 542.3 L312.0 543.0 L313.5 542.3 L315.0 543.0 L316.5 543.1 L318.0 543.6 L319.5 544.6 L321.0 545.8 L322.5 544.7 L323.9 544.0 L325.4 544.0 L326.9 544.3 L328.4 544.5 L329.9 544.5 L331.4 544.1 L332.9 544.3 L334.4 544.4 L335.8 544.1 L337.3 544.0 L338.8 543.9 L340.3 543.1 L341.8 542.6 L343.3 542.6 L344.8 542.5 L346.2 542.2 L347.7 542.5 L349.2 542.6 L350.7 542.6 L352.2 542.2 L353.7 541.7 L355.2 542.4 L356.7 542.9 L358.1 542.7 L359.6 542.2 L361.1 542.1 L362.6 542.5 L364.1 542.9 L365.6 543.2 L367.1 543.5 L368.6 543.2 L370.0 543.1 L371.5 543.1 L373.0 543.4 L374.5 542.8 L376.0 542.6 L377.5 541.8 L379.0 541.9 L380.4 542.1 L381.9 542.1 L383.4 542.8 L384.9 543.0 L386.4 542.7 L387.9 542.6 L389.4 542.4 L390.9 541.8 L392.3 541.7 L393.8 541.7 L395.3 542.0 L396.8 541.8 L398.3 541.3 L399.8 540.9 L401.3 540.7 L402.8 540.7 L404.2 541.4 L405.7 541.2 L407.2 540.8 L408.7 540.7 L410.2 540.7 L411.7 540.8 L413.2 541.1 L414.6 540.5 L416.1 540.2 L417.6 540.2 L419.1 540.6 L420.6 540.7 L422.1 541.0 L423.6 542.2 L425.1 544.0 L426.5 544.0 L428.0 544.0 L429.5 544.0 L431.0 544.0 L432.5 543.1 L434.0 543.8 L435.5 544.8 L437.0 545.7 L438.4 544.5 L439.9 542.6 L441.4 541.8 L442.9 541.3 L444.4 541.6 L445.9 541.9 L447.4 541.9 L448.9 541.7 L450.3 541.6 L451.8 541.3 L453.3 540.8 L454.8 541.0 L456.3 541.2 L457.8 541.4 L459.3 541.5 L460.7 541.2 L462.2 542.3 L463.7 542.2 L465.2 542.1 L466.7 542.1 L468.2 542.1 L469.7 542.1 L471.2 541.8 L472.6 542.0 L474.1 542.9 L475.6 542.7 L477.1 542.6 L478.6 542.5 L480.1 541.7 L481.6 542.1 L483.1 542.5 L484.5 542.2 L486.0 542.1 L487.5 542.1 L489.0 542.1 L490.5 542.1 L492.0 542.2 L493.5 542.5 L494.9 542.6 L496.4 542.6 L497.9 543.0 L499.4 543.0 L500.9 543.4 L502.4 543.9 L503.9 543.9 L505.4 544.0 L506.8 543.5 L508.3 542.2 L509.8 543.3 L511.3 543.9 L512.8 543.6 L514.3 543.8 L515.8 544.3 L517.3 544.1 L518.7 543.9 L520.2 543.2 L521.7 542.7 L523.2 542.8 L524.7 542.5 L526.2 541.7 L527.7 541.7 L529.1 542.6 L530.6 542.6 L532.1 542.6 L533.6 542.6 L535.1 543.1 L536.6 543.3 L538.1 542.3 L539.6 541.7 L541.0 542.4 L542.5 542.3 L544.0 542.5 L545.5 542.2 L547.0 541.7 L548.5 541.7 L550.0 542.0 L551.5 540.8 L552.9 540.7 L554.4 540.3 L555.9 541.0 L557.4 540.8 L558.9 541.5 L560.4 541.1 L561.9 540.8 L563.4 541.0 L564.8 542.4 L566.3 543.4 L567.8 543.5 L569.3 543.0 L570.8 542.6 L572.3 542.7 L573.8 543.9 L575.2 544.0 L576.7 545.5 L578.2 547.2 L579.7 547.6 L581.2 548.5 L582.7 549.4 L584.2 550.6 L585.7 551.4 L587.1 550.8 L588.6 549.5 L590.1 548.1 L591.6 547.6 L593.1 547.4 L594.6 551.5 L596.1 559.2 L597.6 562.7 L599.0 564.5 L600.5 566.0 L602.0 565.3 L603.5 564.6 L605.0 564.2 L606.5 563.4 L608.0 562.5 L609.4 563.4 L610.9 566.3 L612.4 565.3 L613.9 565.8 L615.4 564.6 L616.9 564.2 L618.4 563.2 L619.9 562.9 L621.3 563.9 L622.8 564.1 L624.3 562.8 L625.8 561.5 L627.3 562.0 L628.8 560.9 L630.3 558.5 L631.8 556.0 L633.2 558.8 L634.7 558.3 L636.2 559.4 L637.7 561.1 L639.2 561.8 L640.7 562.2 L642.2 561.9 L643.6 561.8 L645.1 559.7 L646.6 557.5 L648.1 557.0 L649.6 555.9 L651.1 552.8 L652.6 552.5 L654.1 552.8 L655.5 553.3 L657.0 551.1 L658.5 551.1 L660.0 549.9 L661.5 549.5 L663.0 547.2 L664.5 546.8 L666.0 548.9 L667.4 551.7 L668.9 556.4 L670.4 559.5 L671.9 562.7 L673.4 562.8 L674.9 562.5 L676.4 563.1 L677.9 562.9 L679.3 563.0 L680.8 564.4 L682.3 564.6 L683.8 561.8 L685.3 560.2 L686.8 558.2 L688.3 556.3 L689.7 556.8 L691.2 559.3 L692.7 561.2 L694.2 557.5 L695.7 551.4 L697.2 550.9 L698.7 549.8 L700.2 549.6 L701.6 550.9 L703.1 553.2 L704.6 557.7 L706.1 563.3 L707.6 570.4 L709.1 570.4 L710.6 569.6 L712.1 569.2 L713.5 568.0 L715.0 567.3 L716.5 568.4 L718.0 568.1 L719.5 567.2 L721.0 566.3 L722.5 567.0 L723.9 567.8 L725.4 568.4 L726.9 567.9 L728.4 563.2 L729.9 561.8 L731.4 561.4 L732.9 561.2 L734.4 560.1 L735.8 560.4 L737.3 560.8 L738.8 562.8 L740.3 567.0 L741.8 571.2 L743.3 572.6 L744.8 572.3 L746.3 572.8 L747.7 572.8 L749.2 573.0 L750.7 573.0 L752.2 571.8 L753.7 571.5 L755.2 571.4 L756.7 571.7 L758.1 571.1 L759.6 570.2 L761.1 569.3 L762.6 568.1 L764.1 567.2 L765.6 567.4 L767.1 567.3 L768.6 566.6 L770.0 565.3 L771.5 563.6 L773.0 562.0 L774.5 564.4 L776.0 565.5 L777.5 568.3 L779.0 570.8 L780.5 570.8 L781.9 570.7 L783.4 570.4 L784.9 570.5 L786.4 571.1 L787.9 571.6 L789.4 571.3 L790.9 568.3 L792.4 567.0 L793.8 567.7 L795.3 566.8 L796.8 567.5 L798.3 568.4 L799.8 567.4 L801.3 566.7 L802.8 566.7 L804.2 565.2 L805.7 563.5 L807.2 562.2 L808.7 561.8 L810.2 562.7 L811.7 562.8 L813.2 563.9 L814.7 564.1 L816.1 563.8 L817.6 564.2 L819.1 565.0 L820.6 565.4 L822.1 565.3 L823.6 565.4 L825.1 564.3 L826.6 562.9 L828.0 560.9 L829.5 560.0 L831.0 557.6 L832.5 557.3 L834.0 557.8 L835.5 558.4 L837.0 557.5 L838.4 556.6 L839.9 555.8 L841.4 555.2 L842.9 554.0 L844.4 554.7 L845.9 557.0 L847.4 558.2 L848.9 559.9 L850.3 560.0 L851.8 560.3 L853.3 560.9 L854.8 560.3 L856.3 557.7 L857.8 557.7 L859.3 557.5 L860.8 557.1 L862.2 556.7 L863.7 556.2 L865.2 552.7 L866.7 551.1 L868.2 551.4 L869.7 551.2 L871.2 551.1 L872.6 551.5 L874.1 551.5 L875.6 551.3 L877.1 551.8 L878.6 551.1 L880.1 551.1 L881.6 551.5 L883.1 552.6 L884.5 554.3 L886.0 555.1 L887.5 554.3 L889.0 554.4 L890.5 553.7 L892.0 552.5 L893.5 551.4 L895.0 550.9 L896.4 550.4 L897.9 550.0 L899.4 549.7 L900.9 549.3 L902.4 548.2 L903.9 548.2 L905.4 547.9 L906.9 547.5 L908.3 547.2 L909.8 546.5 L911.3 546.8 L912.8 546.8 L914.3 546.7 L915.8 545.9 L917.3 547.4 L918.7 550.0 L920.2 550.8 L921.7 549.7 L923.2 551.4 L924.7 552.4 L926.2 551.0 L927.7 550.5 L929.2 550.3 L930.6 550.1 L932.1 549.8 L933.6 548.5 L935.1 548.4 L936.6 549.2 L938.1 548.6 L939.6 548.1 L941.1 547.8 L942.5 548.1 L944.0 548.1 L945.5 548.1 L947.0 547.5 L948.5 547.9 L950.0 547.1 L951.5 546.4 L952.9 547.4 L954.4 548.7 L955.9 549.5 L957.4 549.6 L958.9 548.5 L960.4 549.4 L961.9 545.3 L963.4 543.5 L964.8 544.5 L966.3 548.4 L967.8 549.1 L969.3 549.2 L970.8 548.7 L972.3 547.6 L973.8 546.1 L975.3 544.5 L976.7 544.7 L978.2 545.6 L979.7 545.8 L981.2 546.0 L982.7 546.3 L984.2 545.8 L985.7 545.5 L987.1 546.1 L988.6 547.2 L990.1 548.4 L991.6 549.2 L993.1 549.8 L994.6 550.0 L996.1 549.9 L997.6 548.7 L999.0 548.3 L1000.5 549.1 L1002.0 549.4 L1003.5 549.3 L1005.0 548.8 L1006.5 549.0 L1008.0 549.1 L1009.5 549.1 L1010.9 549.3 L1012.4 550.3 L1013.9 550.6 L1015.4 550.8 L1016.9 551.5 L1018.4 551.9 L1019.9 550.5 L1021.4 549.7 L1022.8 550.0 L1024.3 551.1 L1025.8 552.8 L1027.3 553.5 L1028.8 555.1 L1030.3 555.3 L1031.8 555.5 L1033.2 555.6 L1034.7 555.4 L1036.2 555.8 L1037.7 553.5 L1039.2 552.6 L1040.7 553.0 L1042.2 553.8 L1043.7 553.2 L1045.1 551.2 L1046.6 550.7 L1048.1 550.2 L1049.6 550.5 L1051.1 549.4 L1052.6 547.4 L1054.1 548.6 L1055.6 548.6 L1057.0 549.6 L1058.5 550.7 L1060.0 550.6 L1061.5 551.5 L1063.0 551.9 L1064.5 552.2 L1066.0 552.0 L1067.4 551.2 L1068.9 551.3 L1070.4 550.5 L1071.9 550.4 L1073.4 550.9 L1074.9 551.2 L1076.4 551.4 L1077.9 551.7 L1079.3 551.5 L1080.8 550.0 L1082.3 548.9 L1083.8 549.0 L1085.3 548.6 L1086.8 548.3 L1088.3 548.4 L1089.8 548.4 L1091.2 548.4 L1092.7 548.7 L1094.2 549.0 L1095.7 549.4 L1097.2 549.6 L1098.7 549.6 L1100.2 548.9 L1101.7 548.4 L1103.1 549.2 L1104.6 549.5 L1106.1 548.9 L1107.6 548.3 L1109.1 547.8 L1110.6 546.9 L1112.1 546.8 L1113.5 546.8 L1115.0 546.7 L1116.5 545.5 L1118.0 543.1 L1119.5 543.1 L1121.0 542.4 L1122.5 542.2 L1124.0 543.1 L1125.4 544.0 L1126.9 544.0 L1128.4 543.3 L1129.9 542.7 L1131.4 542.3 L1132.9 542.3 L1134.4 543.1 L1135.9 543.9 L1137.3 544.2 L1138.8 543.6 L1140.3 542.5 L1141.8 541.8 L1143.3 541.7 L1144.8 542.2 L1146.3 542.9 L1147.7 543.5 L1149.2 543.8 L1150.7 543.6 L1152.2 543.1 L1153.7 542.7 L1155.2 542.8 L1156.7 542.7 L1158.2 542.8 L1159.6 543.0 L1161.1 542.1 L1162.6 541.2 L1164.1 540.8 L1165.6 541.4 L1167.1 542.0 L1168.6 542.9 L1170.1 543.5 L1171.5 543.5 L1173.0 543.9 L1174.5 544.4 L1176.0 544.5 L1177.5 544.5 L1179.0 544.9 L1180.5 545.3 L1181.9 545.5 L1183.4 545.6 L1184.9 546.1 L1186.4 545.9 L1187.9 545.4 L1189.4 544.5 L1190.9 544.9 L1192.4 544.9 L1193.8 544.9 L1195.3 544.6 L1196.8 544.7 L1198.3 545.2 L1199.8 546.0 L1201.3 545.5 L1202.8 544.7 L1204.3 545.3 L1205.7 545.2 L1207.2 545.0 L1208.7 545.3 L1210.2 545.7 L1211.7 545.4 L1213.2 545.2 L1214.7 545.9 L1216.2 545.5 L1217.6 545.8 L1219.1 546.3 L1220.6 546.8 L1222.1 546.1 L1223.6 545.5 L1225.1 544.9 L1226.6 544.3 L1228.0 544.1 L1229.5 544.1 L1231.0 544.4 L1232.5 544.4 L1234.0 544.1 L1235.5 544.6 L1237.0 545.2 L1238.5 545.9 L1239.9 546.2 L1241.4 546.0 L1242.9 544.9 L1244.4 543.6 L1245.9 542.7 L1247.4 542.9 L1248.9 543.4 L1250.4 543.3 L1251.8 543.6 L1253.3 544.0 L1254.8 543.6 L1256.3 542.8 L1257.8 541.9 L1259.3 541.3 L1260.8 541.2 L1262.2 541.7 L1263.7 542.3 L1265.2 543.1 L1266.7 543.3 L1268.2 541.4 L1269.7 540.3 L1271.2 540.7 L1272.7 540.5 L1274.1 540.5 L1275.6 540.7 L1277.1 540.7 L1278.6 541.0 L1280.1 541.4 L1281.6 541.5 L1283.1 541.5 L1284.6 541.3 L1286.0 541.2 L1287.5 541.7 L1289.0 542.1 L1290.5 542.5 L1292.0 542.2 L1293.5 541.6 L1295.0 541.9 L1296.4 542.4 L1297.9 541.9 L1299.4 541.3 L1300.9 541.8 L1302.4 542.4 L1303.9 542.5 L1305.4 541.8 L1306.9 541.3 L1308.3 541.2 L1309.8 541.2 L1311.3 541.2 L1312.8 541.2 L1314.3 541.2 L1315.8 541.2" fill="none" stroke="#4572a7" stroke-width="1" stroke-linejoin="round"/>
    <rect x="260.500" y="537.500" width="1055" height="40" fill="#6685c2" fill-opacity=".3" stroke="#c8c8c8" stroke-width="1"/>
    <g stroke="#b9c2d6" stroke-width="1" shape-rendering="crispEdges">
      <path d="M403.500 538V577 M652.500 538V577 M902.500 538V577 M1152.500 538V577"/>
    </g>
    <g font-size="11" fill="#999" class="hc" letter-spacing="0.3">
      <text x="407" y="573">10月-22</text>
      <text x="657" y="573">10月-29</text>
      <text x="906" y="573">11月- 5</text>
      <text x="1156" y="573">11月-12</text>
    </g>
    <g fill="#f2f2f2" stroke="#999" stroke-width="1">
      <rect x="256.500" y="549.500" width="8" height="15"/>
      <rect x="1311.500" y="549.500" width="8" height="15"/>
    </g>
    <g stroke="#666" stroke-width="1" shape-rendering="crispEdges">
      <path d="M259.500 553V561 M261.500 553V561 M1314.500 553V561 M1316.500 553V561"/>
    </g>
  </g>
</svg>
</body>
</html>
